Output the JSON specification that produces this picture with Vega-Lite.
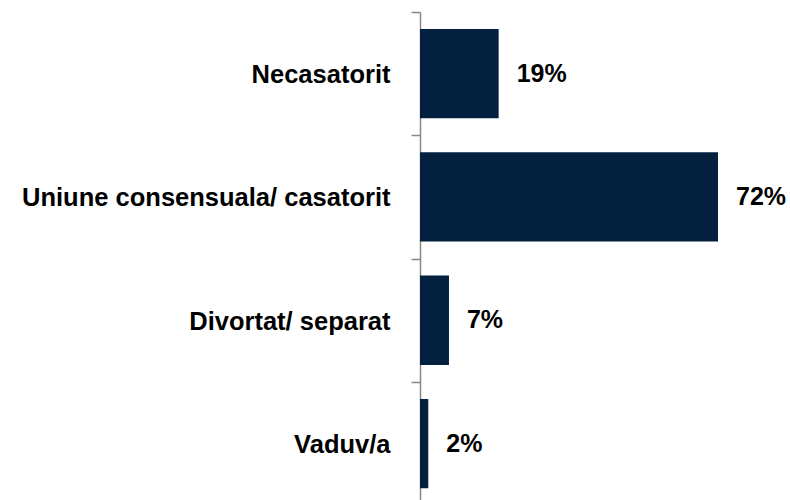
{
  "$schema": "https://vega.github.io/schema/vega-lite/v6.json",
  "width": 370,
  "height": 488,
  "autosize": {"type": "none"},
  "padding": {"left": 420, "top": 12, "right": 0, "bottom": 0},
  "background": "white",
  "config": {"view": {"stroke": null}},
  "data": {
    "values": [
      {"status": "Necasatorit", "pct": 0.19},
      {"status": "Uniune consensuala/ casatorit", "pct": 0.72},
      {"status": "Divortat/ separat", "pct": 0.07},
      {"status": "Vaduv/a", "pct": 0.02}
    ]
  },
  "encoding": {
    "y": {
      "field": "status",
      "type": "nominal",
      "sort": null,
      "scale": {"paddingInner": 0.276, "paddingOuter": 0.117, "align": 0.59},
      "axis": {
        "title": null,
        "bandPosition": 0,
        "tickOffset": -17,
        "labelOffset": 18,
        "domainColor": "#898989",
        "domainWidth": 1.5,
        "tickColor": "#898989",
        "tickWidth": 1.5,
        "tickSize": 9,
        "labelFont": "Liberation Sans",
        "labelFontWeight": "bold",
        "labelFontSize": 25.5,
        "labelColor": "#000000",
        "labelPadding": 21,
        "labelLimit": 450
      }
    },
    "x": {
      "field": "pct",
      "type": "quantitative",
      "scale": {"domain": [0, 0.894], "nice": false},
      "axis": null
    }
  },
  "layer": [
    {"mark": {"type": "bar", "color": "#03203F"}},
    {
      "mark": {
        "type": "text",
        "align": "left",
        "baseline": "middle",
        "dx": 18,
        "font": "Liberation Sans",
        "fontWeight": "bold",
        "fontSize": 25,
        "color": "#000000"
      },
      "encoding": {"text": {"field": "pct", "type": "quantitative", "format": ".0%"}}
    }
  ]
}
